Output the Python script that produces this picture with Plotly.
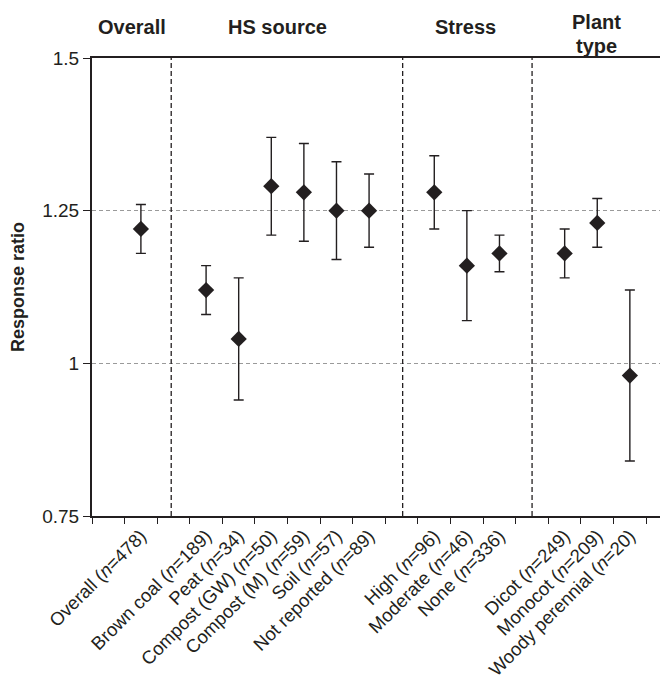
import plotly.graph_objects as go

# slot positions along the x axis (blank slots 0, 2, 9, 13 separate the groups)
slots = [1, 3, 4, 5, 6, 7, 8, 10, 11, 12, 14, 15, 16]
labels = [
    "Overall (<i>n</i>=478)",
    "Brown coal (<i>n</i>=189)",
    "Peat (<i>n</i>=34)",
    "Compost (GW) (<i>n</i>=50)",
    "Compost (M) (<i>n</i>=59)",
    "Soil (<i>n</i>=57)",
    "Not reported (<i>n</i>=89)",
    "High (<i>n</i>=96)",
    "Moderate (<i>n</i>=46)",
    "None (<i>n</i>=336)",
    "Dicot (<i>n</i>=249)",
    "Monocot (<i>n</i>=209)",
    "Woody perennial (<i>n</i>=20)",
]
ratio = [1.22, 1.12, 1.04, 1.29, 1.28, 1.25, 1.25, 1.28, 1.16, 1.18, 1.18, 1.23, 0.98]
upper = [1.26, 1.16, 1.14, 1.37, 1.36, 1.33, 1.31, 1.34, 1.25, 1.21, 1.22, 1.27, 1.12]
lower = [1.18, 1.08, 0.94, 1.21, 1.20, 1.17, 1.19, 1.22, 1.07, 1.15, 1.14, 1.19, 0.84]

dividers = [1.93, 9.03, 13.0]
# group headings: (text, x in slot units, y in paper units)
groups = ["Overall", "HS source", "Stress", "Plant", "type"]
group_x = [0.74, 5.2, 10.97, 14.98, 14.98]
group_y = [1.068, 1.068, 1.068, 1.0786, 1.0262]

FONT = "Liberation Sans, Arial, sans-serif"
INK = "#231f20"

fig = go.Figure()

fig.add_trace(go.Scatter(
    x=slots,
    y=ratio,
    mode="markers",
    marker=dict(symbol="diamond", size=12.5, color=INK),
    error_y=dict(
        type="data",
        symmetric=False,
        array=[u - r for u, r in zip(upper, ratio)],
        arrayminus=[r - l for r, l in zip(ratio, lower)],
        color=INK,
        thickness=1.4,
        width=5,
    ),
    showlegend=False,
))

# dashed group separators
for d in dividers:
    fig.add_shape(
        type="line", xref="x", yref="paper",
        x0=d, x1=d, y0=0, y1=1,
        line=dict(color=INK, width=1.3, dash="5px,3px"),
    )

# group headings
for g, gx, gy in zip(groups, group_x, group_y):
    fig.add_annotation(
        x=gx, y=gy, xref="x", yref="paper",
        text=f"<b>{g}</b>", showarrow=False,
        font=dict(size=20, color=INK, family=FONT),
        xanchor="center", yanchor="middle",
    )

# y axis title
fig.add_annotation(
    x=-0.1285, y=0.5, xref="paper", yref="paper",
    text="<b>Response ratio</b>", textangle=-90, showarrow=False,
    font=dict(size=18, color=INK, family=FONT),
    xanchor="center", yanchor="middle",
)

fig.update_layout(
    width=660,
    height=674,
    margin=dict(l=84, r=0, t=50, b=166),
    paper_bgcolor="white",
    plot_bgcolor="white",
    font=dict(family=FONT, color=INK),
    xaxis=dict(
        range=[-0.5, 17.17],
        tickmode="array",
        tickvals=slots,
        ticktext=labels,
        tickangle=-45,
        ticks="",
        tickfont=dict(size=18.5, color=INK),
        showgrid=False,
        zeroline=False,
        showline=True,
        linecolor=INK,
        linewidth=2,
        mirror=True,
        minor=dict(
            tickvals=[i - 0.5 for i in range(18)],
            ticks="outside",
            ticklen=6,
            tickwidth=1.4,
            tickcolor=INK,
            showgrid=False,
        ),
    ),
    yaxis=dict(
        range=[0.75, 1.5],
        tickvals=[0.75, 1.0, 1.25, 1.5],
        ticktext=["0.75", "1", "1.25", "1.5"],
        ticks="outside",
        ticklen=7,
        tickwidth=1.4,
        tickcolor=INK,
        tickfont=dict(size=19, color=INK),
        showgrid=True,
        gridcolor="#9a9a9a",
        gridwidth=1,
        griddash="4px,3px",
        zeroline=False,
        showline=True,
        linecolor=INK,
        linewidth=2,
    ),
)

fig.write_html("out.html")
